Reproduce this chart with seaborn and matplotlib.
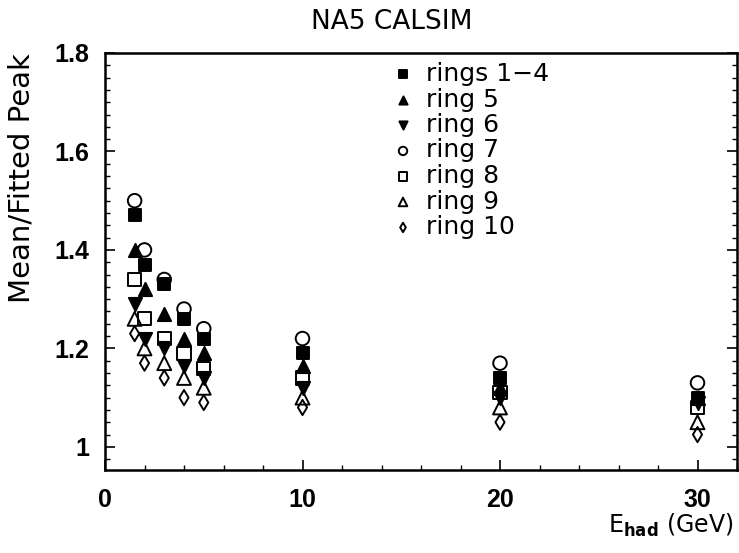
# NA5 CALSIM - mean / fitted peak vs hadron energy, per ring
import numpy as np
import pandas as pd
import matplotlib
matplotlib.use("Agg")
import matplotlib.pyplot as plt
import seaborn as sns
from matplotlib.ticker import MultipleLocator

# ==============================
# Data
# ==============================
energies = [1.5, 2, 3, 4, 5, 10, 20, 30]

rings_1_4 = [1.47, 1.37, 1.33, 1.26, 1.22, 1.19, 1.14, 1.10]
ring_5 = [1.40, 1.32, 1.27, 1.22, 1.19, 1.165, 1.12, 1.10]
ring_6 = [1.29, 1.22, 1.20, 1.165, 1.14, 1.12, 1.10, 1.09]
ring_7 = [1.50, 1.40, 1.34, 1.28, 1.24, 1.22, 1.17, 1.13]
ring_8 = [1.34, 1.26, 1.22, 1.19, 1.16, 1.14, 1.11, 1.08]
ring_9 = [1.26, 1.20, 1.17, 1.14, 1.12, 1.10, 1.08, 1.05]
ring_10 = [1.23, 1.17, 1.14, 1.10, 1.09, 1.08, 1.05, 1.025]

labels = ["rings 1\u22124", "ring 5", "ring 6", "ring 7",
          "ring 8", "ring 9", "ring 10"]
series = [rings_1_4, ring_5, ring_6, ring_7, ring_8, ring_9, ring_10]

# marker, filled?, size
styles = [("s", True, 80), ("^", True, 90), ("v", True, 90),
          ("o", False, 95), ("s", False, 90), ("^", False, 100),
          ("d", False, 60)]

x_ticks = [0, 10, 20, 30]
y_ticks = [1.0, 1.2, 1.4, 1.6, 1.8]


def main():
    sns.set_style("ticks")
    plt.rcParams["font.family"] = ["DejaVu Sans"]
    for key in ["text.color", "axes.labelcolor", "xtick.color",
                "ytick.color", "axes.edgecolor"]:
        plt.rcParams[key] = "black"

    fig = plt.figure(figsize=(7.39, 5.53), dpi=100)
    ax = fig.add_axes([105 / 739, 1 - 470 / 553, 632 / 739, 417 / 553])

    for vals, lab, (mk, filled, sz) in zip(series, labels, styles):
        df = pd.DataFrame({"E": energies, "ratio": vals})
        sns.scatterplot(
            data=df, x="E", y="ratio", ax=ax,
            marker=mk, s=sz, color="black",
            facecolor="black" if filled else "none",
            edgecolor="black", linewidth=1.4, label=lab,
        )

    ax.set_xlim(0, 32)
    ax.set_ylim(0.953, 1.8)
    ax.set_xticks(x_ticks)
    ax.set_xticklabels(["0", "10", "20", "30"])
    ax.set_yticks(y_ticks)
    ax.set_yticklabels(["1", "1.2", "1.4", "1.6", "1.8"])
    ax.xaxis.set_minor_locator(MultipleLocator(2))
    ax.yaxis.set_minor_locator(MultipleLocator(0.025))

    ax.tick_params(which="both", direction="in", right=True, top=False,
                   labelright=False, color="black")
    ax.tick_params(which="major", length=7, width=1.2)
    ax.tick_params(which="minor", length=3.5, width=1.0)
    ax.tick_params(axis="x", which="major", pad=13)
    ax.tick_params(axis="y", which="major", pad=11)
    for lbl in ax.get_xticklabels() + ax.get_yticklabels():
        lbl.set_fontfamily("Liberation Sans")
        lbl.set_fontweight("bold")
        lbl.set_fontsize(18)
        lbl.set_color("black")

    for sp in ax.spines.values():
        sp.set_linewidth(1.8)
        sp.set_color("black")

    ax.set_xlabel("")
    ax.set_ylabel("")
    fig.text(22 / 739, 1 - 178 / 553, "Mean/Fitted Peak",
             rotation=90, ha="center", va="center", fontsize=21)
    fig.text(733 / 739, 1 - 525 / 553, r"E$_{\mathbf{had}}$ (GeV)",
             ha="right", va="center", fontsize=17)
    fig.text(392 / 739, 1 - 22 / 553, "NA5 CALSIM",
             ha="center", va="center", fontsize=19)

    ax.legend(loc="upper left",
              bbox_to_anchor=((393 - 105) / 632, 1 - (62 - 53) / 417),
              frameon=False, fontsize=18, markerscale=0.62,
              handlelength=0.8, handletextpad=0.5, labelspacing=0.06,
              borderpad=0, borderaxespad=0)

    fig.savefig("out.png", dpi=100)


if __name__ == "__main__":
    main()
